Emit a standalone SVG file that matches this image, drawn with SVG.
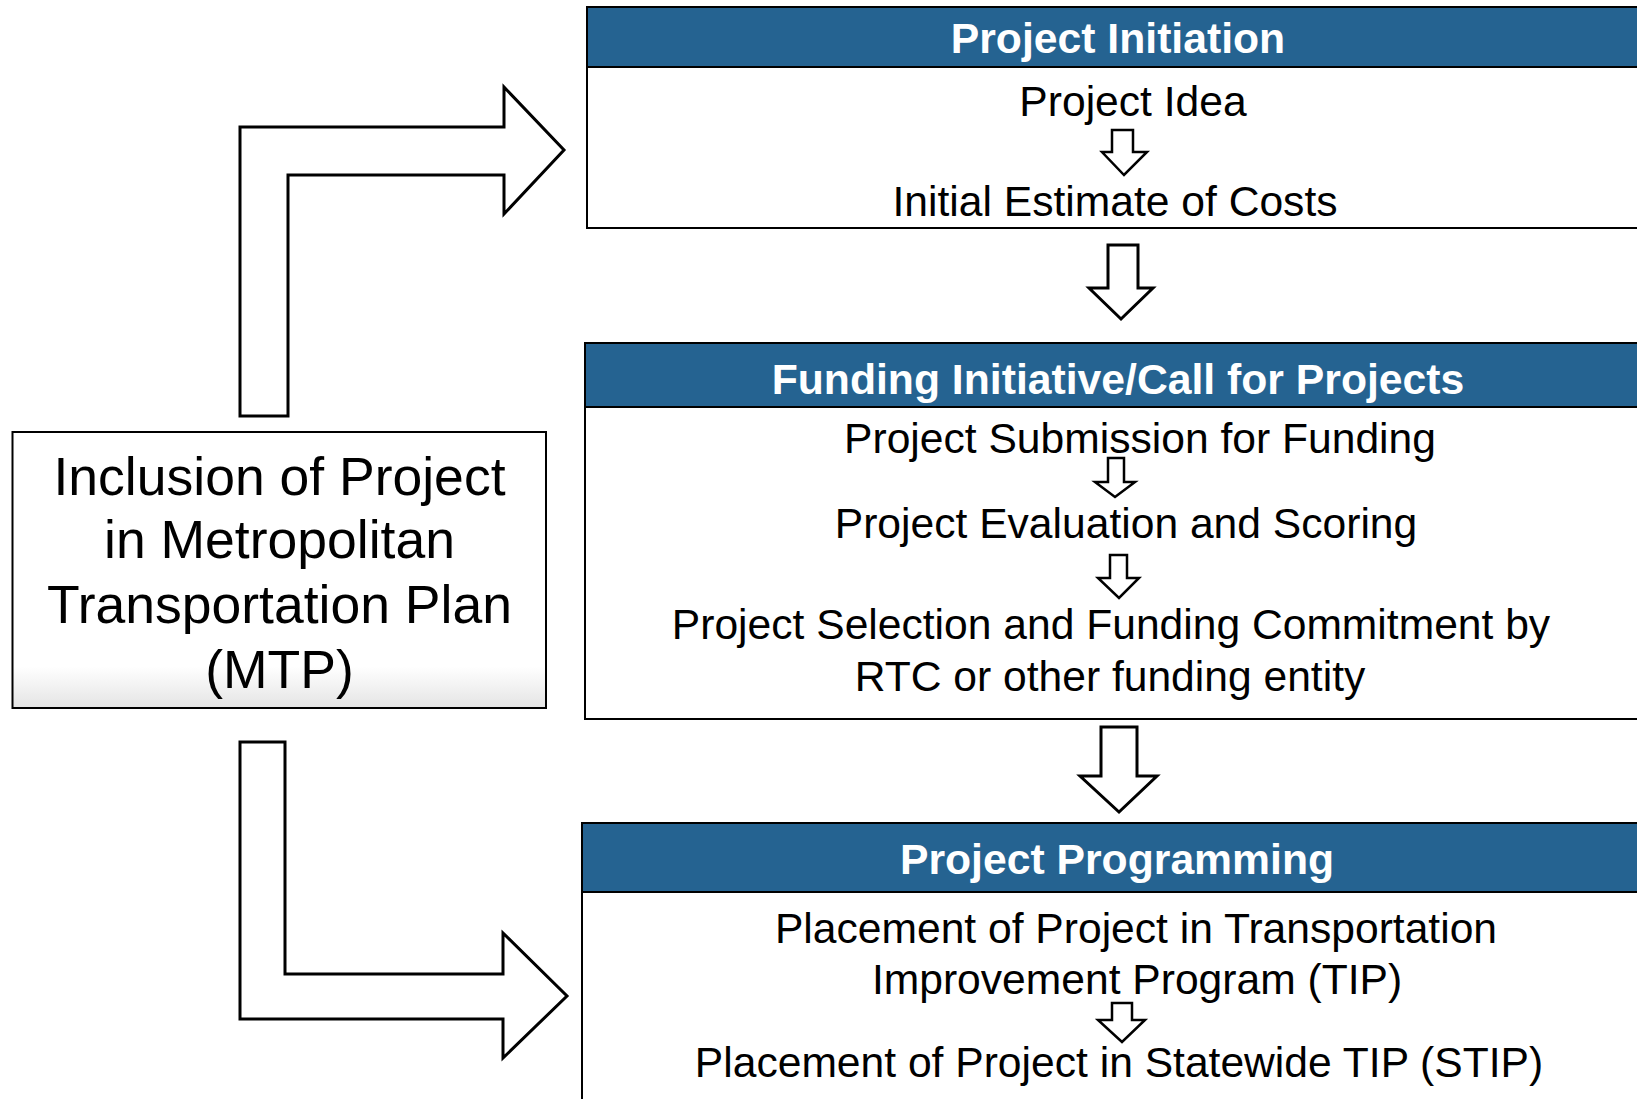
<svg xmlns="http://www.w3.org/2000/svg" width="1637" height="1099" viewBox="0 0 1637 1099">
  <style>
    .box { fill: #ffffff; stroke: #000000; stroke-width: 2; }
    .hdr { fill: #256391; stroke: #000000; stroke-width: 2; }
    .ttl { font-family: "Liberation Sans", Arial, sans-serif; font-weight: bold; font-size: 42.7px; fill: #ffffff; text-anchor: middle; }
    .txt { font-family: "Liberation Sans", Arial, sans-serif; font-size: 42.6px; fill: #000000; text-anchor: middle; }
    .big { font-family: "Liberation Sans", Arial, sans-serif; font-size: 53.5px; fill: #000000; text-anchor: middle; }
    .arr { fill: #ffffff; stroke: #000000; stroke-width: 3; stroke-linejoin: miter; }
    .sarr { fill: #ffffff; stroke: #000000; stroke-width: 2.5; stroke-linejoin: miter; }
  </style>
  <defs>
    <linearGradient id="lg" x1="0" y1="0" x2="0" y2="1">
      <stop offset="0" stop-color="#ffffff"/>
      <stop offset="0.85" stop-color="#ffffff"/>
      <stop offset="1" stop-color="#e4e4e4"/>
    </linearGradient>
  </defs>
  <rect width="1637" height="1099" fill="#ffffff"/>

  <g id="connectors">
    <path class="arr" d="M240,416 L240,127 L504,127 L504,87 L564,150 L504,214 L504,175 L288,175 L288,416 Z"/>
    <path class="arr" d="M240,742 L240,1019 L503,1019 L503,1058 L567,996 L503,933 L503,974 L285,974 L285,742 Z"/>
    <path class="arr" d="M1108,245 L1138,245 L1138,288 L1153,288 L1121,319 L1089,288 L1108,288 Z"/>
    <path class="arr" d="M1101,727 L1137,727 L1137,776 L1157,776 L1119,812 L1080,776 L1101,776 Z"/>
  </g>

  <g id="mtp">
    <rect x="12.5" y="432" width="533.5" height="276" fill="url(#lg)" stroke="#000" stroke-width="2"/>
    <text class="big" x="279.5" y="495">Inclusion of Project</text>
    <text class="big" x="279.5" y="558">in Metropolitan</text>
    <text class="big" x="279.5" y="623">Transportation Plan</text>
    <text class="big" x="279.5" y="688">(MTP)</text>
  </g>

  <g id="initiation">
    <rect class="box" x="587" y="7" width="1080" height="221"/>
    <rect class="hdr" x="587" y="7" width="1080" height="60"/>
    <text class="ttl" x="1118" y="53">Project Initiation</text>
    <text class="txt" x="1133" y="116">Project Idea</text>
    <path class="sarr" d="M1112,130 L1133,130 L1133,152 L1147,152 L1124,175 L1102,152 L1112,152 Z"/>
    <text class="txt" x="1115" y="216">Initial Estimate of Costs</text>
  </g>

  <g id="funding">
    <rect class="box" x="585" y="343" width="1080" height="376"/>
    <rect class="hdr" x="585" y="343" width="1080" height="64"/>
    <text class="ttl" x="1118" y="394">Funding Initiative/Call for Projects</text>
    <text class="txt" x="1140" y="453">Project Submission for Funding</text>
    <path class="sarr" d="M1108,458 L1124,458 L1124,482 L1135,482 L1115,497 L1095,482 L1108,482 Z"/>
    <text class="txt" x="1126" y="538">Project Evaluation and Scoring</text>
    <path class="sarr" d="M1110,555 L1127,555 L1127,578 L1139,578 L1119,598 L1098,578 L1110,578 Z"/>
    <text class="txt" x="1111" y="639">Project Selection and Funding Commitment by</text>
    <text class="txt" x="1110" y="691">RTC or other funding entity</text>
  </g>

  <g id="programming">
    <rect class="box" x="582" y="823" width="1080" height="300"/>
    <rect class="hdr" x="582" y="823" width="1080" height="69"/>
    <text class="ttl" x="1117" y="874">Project Programming</text>
    <text class="txt" x="1136" y="943">Placement of Project in Transportation</text>
    <text class="txt" x="1137" y="994">Improvement Program (TIP)</text>
    <path class="sarr" d="M1112,1003 L1132,1003 L1132,1020 L1145,1020 L1122,1042 L1098,1020 L1112,1020 Z"/>
    <text class="txt" x="1119" y="1077">Placement of Project in Statewide TIP (STIP)</text>
  </g>
</svg>
